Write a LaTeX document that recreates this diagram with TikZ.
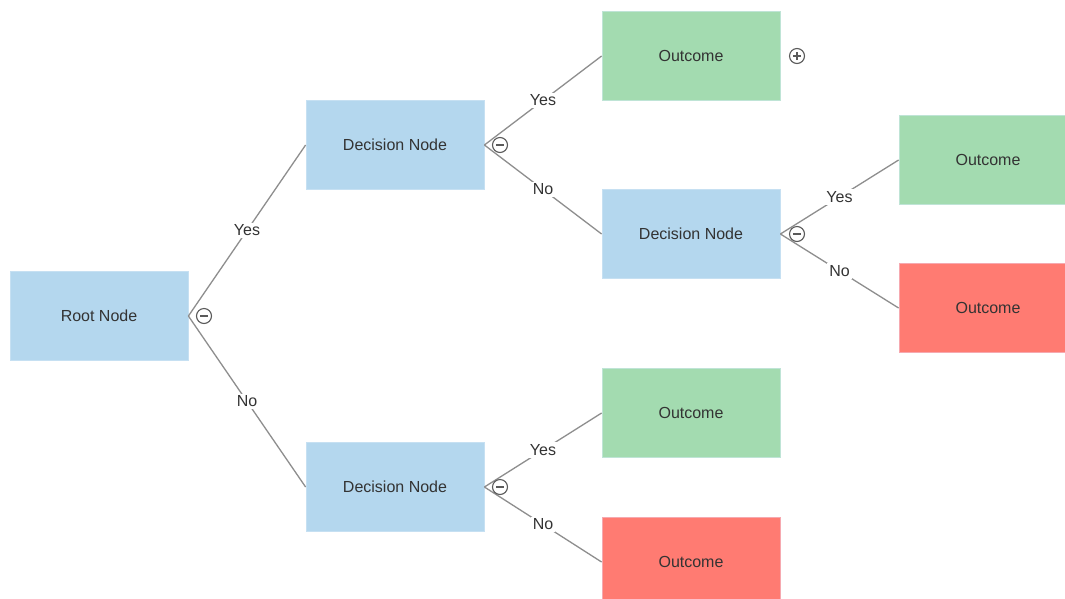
\documentclass[tikz,border=0pt]{standalone}
\usepackage{fontspec}
\setmainfont{Liberation Sans}
\begin{document}
\begin{tikzpicture}[x=1pt,y=-1pt,
  txt/.style={text=black!80},
  box/.style={rectangle, minimum width=178pt, minimum height=89pt, inner sep=0pt, line width=0.8pt, font=\fontsize{16}{19}\selectfont, txt},
  dec/.style={box, fill=bluef, draw=blued},
  good/.style={box, fill=greenf, draw=greend},
  bad/.style={box, fill=redf, draw=redd},
  edge/.style={draw=linec, line width=1.3pt},
  lbl/.style={fill=white, inner sep=2pt, font=\fontsize{16}{19}\selectfont, txt},
  tog/.style={circle, draw=togc, line width=1.1pt, minimum size=15pt, inner sep=0pt},
  minus/.style={tog, path picture={\draw[togc, line width=1.4pt] ([xshift=-4pt]path picture bounding box.center) -- ([xshift=4pt]path picture bounding box.center);}},
  plus/.style={tog, path picture={\draw[togc, line width=1.4pt] ([xshift=-4pt]path picture bounding box.center) -- ([xshift=4pt]path picture bounding box.center) ([yshift=-4pt]path picture bounding box.center) -- ([yshift=4pt]path picture bounding box.center);}}
]
\definecolor{bluef}{HTML}{B4D7EE}
\definecolor{blued}{HTML}{C6E0F2}
\definecolor{greenf}{HTML}{A3DBB0}
\definecolor{greend}{HTML}{BFE4D6}
\definecolor{redf}{HTML}{FF7B72}
\definecolor{redd}{HTML}{F6A9B0}
\definecolor{linec}{HTML}{8E8E8E}
\definecolor{togc}{HTML}{5A5A5A}
\clip (0,0) rectangle (1065,598);
\fill[white] (0,0) rectangle (1065,598);

\node[dec]  (root) at (99,316)  {Root Node};
\node[dec]  (d1)   at (395,145) {Decision Node};
\node[dec]  (d2)   at (395,487) {Decision Node};
\node[good] (o1)   at (691,56)  {Outcome};
\node[dec]  (d3)   at (691,234) {Decision Node};
\node[good] (o2)   at (988,160) {Outcome};
\node[bad]  (o3)   at (988,308) {Outcome};
\node[good] (o4)   at (691,413) {Outcome};
\node[bad]  (o5)   at (691,562) {Outcome};

\draw[edge] (root.east) -- node[lbl] {Yes} (d1.west);
\draw[edge] (root.east) -- node[lbl] {No}  (d2.west);
\draw[edge] (d1.east) -- node[lbl] {Yes} (o1.west);
\draw[edge] (d1.east) -- node[lbl] {No}  (d3.west);
\draw[edge] (d3.east) -- node[lbl] {Yes} (o2.west);
\draw[edge] (d3.east) -- node[lbl] {No}  (o3.west);
\draw[edge] (d2.east) -- node[lbl] {Yes} (o4.west);
\draw[edge] (d2.east) -- node[lbl] {No}  (o5.west);

\node[minus] (t0) at (204,316) {};
\node[minus] (t1) at (500,145) {};
\node[minus] (t3) at (797,234) {};
\node[minus] (t2) at (500,487) {};
\node[plus]  (t4) at (797,56)  {};
\end{tikzpicture}
\end{document}
